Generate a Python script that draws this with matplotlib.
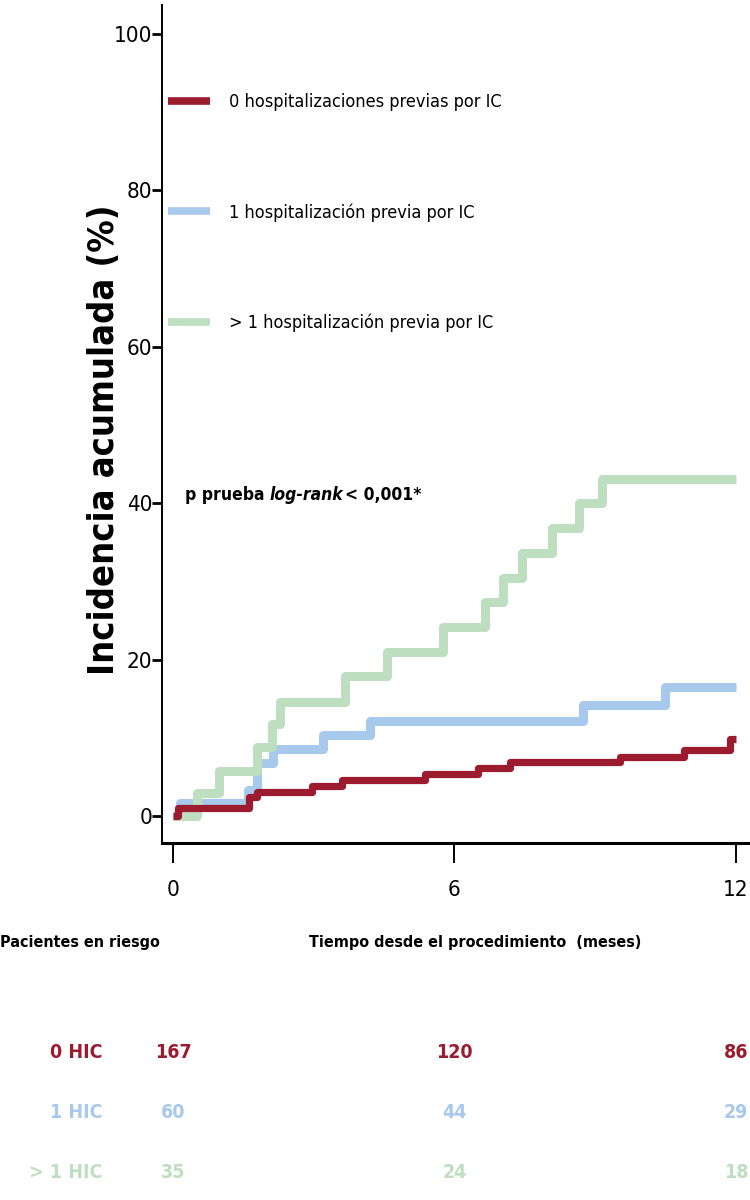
import matplotlib
matplotlib.use("Agg")
import matplotlib.pyplot as plt
from matplotlib import font_manager
import matplotlib.transforms as mtransforms

# Cumulative incidence (%) step curves, time in months (value holds from that time on)
t_0hic = [0, 0.10, 1.63, 1.79, 2.96, 3.60, 5.37, 6.50, 7.19, 9.53, 10.90, 11.88, 12]
y_0hic = [0, 1.0, 2.4, 3.1, 3.8, 4.6, 5.4, 6.1, 6.9, 7.6, 8.4, 9.9, 9.9]

t_1hic = [0, 0.15, 1.60, 1.79, 2.13, 3.20, 4.20, 8.74, 10.49, 12]
y_1hic = [0, 1.7, 3.3, 6.8, 8.6, 10.4, 12.1, 14.2, 16.5, 16.5]

t_gt1hic = [0, 0.51, 0.98, 1.79, 2.11, 2.28, 3.67, 4.56, 5.76, 6.65, 7.04, 7.44, 8.08, 8.66, 9.15, 12]
y_gt1hic = [0, 2.9, 5.8, 8.8, 11.8, 14.6, 17.9, 21.0, 24.2, 27.4, 30.4, 33.6, 36.8, 40.0, 43.1, 43.1]

legend_labels = [
    "0 hospitalizaciones previas por IC",
    "1 hospitalización previa por IC",
    "> 1 hospitalización previa por IC",
]

# Patients at risk
risk_labels = ["0 HIC", "1 HIC", "> 1 HIC"]
risk_times = [0, 6, 12]
risk_0hic = [167, 120, 86]
risk_1hic = [60, 44, 29]
risk_gt1hic = [35, 24, 18]

x_ticks = [0, 6, 12]
y_ticks = [0, 20, 40, 60, 80, 100]

RED = "#9C1B2F"
BLUE = "#A7C9EB"
GREEN = "#BEDFBF"

# pick a narrow font if one is installed
names = {f.name for f in font_manager.fontManager.ttflist}
NARROW = "Liberation Sans"
STRETCH = "normal"
for cand in ["Liberation Sans Narrow", "DejaVu Sans Condensed"]:
    if cand in names:
        NARROW = cand
        break
else:
    for f in font_manager.fontManager.ttflist:
        if f.name == "DejaVu Sans" and f.stretch == "condensed":
            NARROW = "DejaVu Sans"
            STRETCH = "condensed"
            break

plt.rcParams["font.family"] = [NARROW, "DejaVu Sans"]
plt.rcParams["font.stretch"] = STRETCH

DPI = 100
fig = plt.figure(figsize=(7.5, 12), dpi=DPI)
# axes box in pixels: left spine x=162, bottom spine y=843, top y=5
ax = fig.add_axes([162 / 750, 1 - 843 / 1200, 588 / 750, 838 / 1200])
ax.set_xlim(-0.235, 12.30)
ax.set_ylim(-3.45, 103.7)

ax.step(t_0hic, y_0hic, where="post", color=RED, lw=5.2, solid_capstyle="butt", zorder=3)
ax.step(t_1hic, y_1hic, where="post", color=BLUE, lw=6.5, solid_capstyle="butt", zorder=2)
ax.step(t_gt1hic, y_gt1hic, where="post", color=GREEN, lw=6.5, solid_capstyle="butt", zorder=2.5)

for s in ["top", "right"]:
    ax.spines[s].set_visible(False)
ax.spines["left"].set_linewidth(1.4)
ax.spines["bottom"].set_linewidth(2.2)

ax.set_xticks(x_ticks)
ax.set_yticks(y_ticks)
ax.tick_params(axis="y", direction="out", length=7, width=2.0, pad=0, labelsize=16)
ax.tick_params(axis="x", direction="out", length=14.5, width=1.4, pad=12, labelsize=16)

# legend
handles = [
    plt.Line2D([], [], color=RED, lw=5.5, solid_capstyle="butt"),
    plt.Line2D([], [], color=BLUE, lw=5.5, solid_capstyle="butt"),
    plt.Line2D([], [], color=GREEN, lw=5.5, solid_capstyle="butt"),
]
ax.legend(handles, legend_labels, loc="upper left", frameon=False,
          bbox_to_anchor=(168 / 750, 1 - 93 / 1200), bbox_transform=fig.transFigure,
          borderpad=0, borderaxespad=0, handlelength=2.3, handletextpad=1.1,
          labelspacing=5.1, fontsize=13)

# log-rank text, built in pieces (normal bold, italic bold, normal bold)
p_x, p_y = 0.26, 40.4
PFS = 12.5
t1 = ax.text(p_x, p_y, "p prueba", fontsize=PFS, fontweight="bold", va="baseline")
fig.canvas.draw()
w1 = t1.get_window_extent().width
t2 = ax.annotate("log-rank", xy=(p_x, p_y), xycoords="data",
                 xytext=(w1 * 72 / DPI + 3.5, 0), textcoords="offset points",
                 fontsize=PFS, fontweight="bold", fontstyle="italic", va="baseline")
fig.canvas.draw()
w2 = t2.get_window_extent().width
ax.annotate("< 0,001*", xy=(p_x, p_y), xycoords="data",
            xytext=((w1 + w2) * 72 / DPI + 5, 0), textcoords="offset points",
            fontsize=PFS, fontweight="bold", va="baseline")

# axis titles
fig.text(104 / 750, 1 - 440 / 1200, "Incidencia acumulada (%)", rotation=90,
         ha="center", va="center", fontsize=26, fontweight="bold", family="DejaVu Sans")
fig.text(475 / 750, 1 - 942 / 1200, "Tiempo desde el procedimiento  (meses)",
         ha="center", va="center", fontsize=11.5, fontweight="bold")
fig.text(0 / 750, 1 - 942 / 1200, "Pacientes en riesgo",
         ha="left", va="center", fontsize=11.5, fontweight="bold")

# patients at risk table
trans = mtransforms.blended_transform_factory(ax.transData, fig.transFigure)
row_y = [1 - 1053 / 1200, 1 - 1113 / 1200, 1 - 1172 / 1200]
rows = [risk_0hic, risk_1hic, risk_gt1hic]
colors = [RED, BLUE, GREEN]
for lab, vals, yy, c in zip(risk_labels, rows, row_y, colors):
    fig.text(102 / 750, yy, lab, ha="right", va="center", fontsize=14,
             fontweight="bold", color=c)
    for t, v in zip(risk_times, vals):
        ax.text(t, yy, str(v), transform=trans, ha="center", va="center",
                fontsize=14, fontweight="bold", color=c, clip_on=False)

fig.savefig("out.png", dpi=DPI)
